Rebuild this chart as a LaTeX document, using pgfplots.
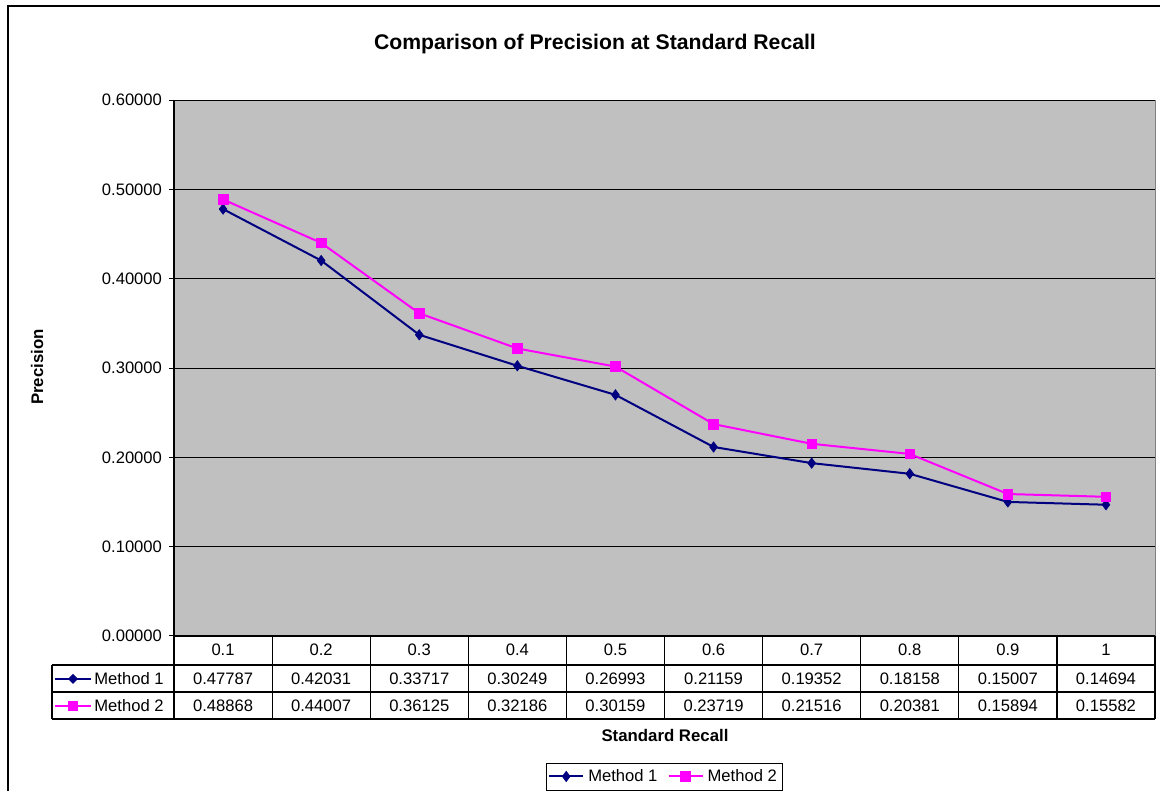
\documentclass[border=0pt]{standalone}
\usepackage{pgfplots}
\pgfplotsset{compat=1.18}
\usepackage{fontspec}
\setmainfont{Liberation Sans}
\definecolor{xlgray}{HTML}{C0C0C0}
\definecolor{xlnavy}{HTML}{000080}
\definecolor{xlmag}{HTML}{FF00FF}
\newcommand{\tf}{\fontsize{8.3}{10}\selectfont}
\begin{document}
\begin{tikzpicture}[x=0.5pt,y=0.5pt]
\useasboundingbox (0,0) rectangle (1160,791);
\begin{scope}
\clip (0,0) rectangle (1160,791);
\draw[line width=0.75pt] (8,-20) -- (8,785) -- (1180,785);
\end{scope}
\begin{axis}[
  at={(87pt,77.5pt)}, anchor=south west, scale only axis,
  width=490.5pt, height=268pt,
  xmin=-0.5, xmax=9.5, ymin=0, ymax=0.6,
  xtick=\empty,
  ytick={0,0.1,0.2,0.3,0.4,0.5,0.6},
  /pgf/number format/assume math mode=true,
  yticklabel style={/pgf/number format/fixed, /pgf/number format/fixed zerofill, /pgf/number format/precision=5},
  axis background/.style={fill=xlgray},
  ymajorgrids, major grid style={black, line width=0.5pt},
  axis x line*=bottom, axis y line*=left,
  axis line style={black, line width=0.6pt},
  tick align=outside, major tick length=2.5pt, tick style={black, line width=0.5pt},
  ticklabel style={font=\tf},
  clip=false,
  legend style={at={(0.5,-0.2621)}, anchor=center, legend columns=2, draw=black, fill=white,
    font=\tf, inner sep=1pt, /tikz/every even column/.append style={column sep=3pt}},
]
\addplot[xlnavy, line width=1pt, mark=diamond*, mark size=2.6pt, mark options={line width=0.3pt}]
  coordinates {(0,0.47787) (1,0.42031) (2,0.33717) (3,0.30249) (4,0.26993) (5,0.21159) (6,0.19352) (7,0.18158) (8,0.15007) (9,0.14694)};
\addlegendentry{Method 1}
\addplot[xlmag, line width=1pt, mark=square*, mark size=2.4pt, mark options={line width=0.3pt}]
  coordinates {(0,0.48868) (1,0.44007) (2,0.36125) (3,0.32186) (4,0.30159) (5,0.23719) (6,0.21516) (7,0.20381) (8,0.15894) (9,0.15582)};
\addlegendentry{Method 2}
\end{axis}
% right edge of plot area
\draw[gray, line width=0.5pt] (1155,155) -- (1155,691);
% data table
\foreach \k in {0,...,10} \draw[line width=0.6pt] ({174+98.1*\k},155) -- ({174+98.1*\k},72);
\draw[line width=0.6pt] (52,126) -- (1155,126);
\draw[line width=0.6pt] (52,99) -- (1155,99);
\draw[line width=0.6pt] (52,72) -- (1155,72);
\draw[line width=0.6pt] (52,126) -- (52,72);
\foreach \v [count=\i from 0] in {0.1,0.2,0.3,0.4,0.5,0.6,0.7,0.8,0.9,1}
  \node[font=\tf] at ({174+98.1*(\i+0.5)},141) {\v};
\foreach \v [count=\i from 0] in {0.47787,0.42031,0.33717,0.30249,0.26993,0.21159,0.19352,0.18158,0.15007,0.14694}
  \node[font=\tf] at ({174+98.1*(\i+0.5)},112) {\v};
\foreach \v [count=\i from 0] in {0.48868,0.44007,0.36125,0.32186,0.30159,0.23719,0.21516,0.20381,0.15894,0.15582}
  \node[font=\tf] at ({174+98.1*(\i+0.5)},85) {\v};
% table legend keys
\draw[xlnavy, line width=1pt] (55,112) -- (91,112);
\fill[xlnavy] (73,117) -- (78,112) -- (73,107) -- (68,112) -- cycle;
\node[font=\tf, anchor=west, inner sep=0] at (94,112) {Method 1};
\draw[xlmag, line width=1pt] (55,85) -- (91,85);
\fill[xlmag] (68,80) rectangle (78,90);
\node[font=\tf, anchor=west, inner sep=0] at (94,85) {Method 2};
% titles
\node[font=\fontsize{10.6}{12}\selectfont\bfseries] at (595,747) {Comparison of Precision at Standard Recall};
\node[font=\fontsize{8.4}{10}\selectfont\bfseries] at (665,56) {Standard Recall};
\node[font=\fontsize{8.4}{10}\selectfont\bfseries, rotate=90] at (37,424) {Precision};
\end{tikzpicture}
\end{document}
